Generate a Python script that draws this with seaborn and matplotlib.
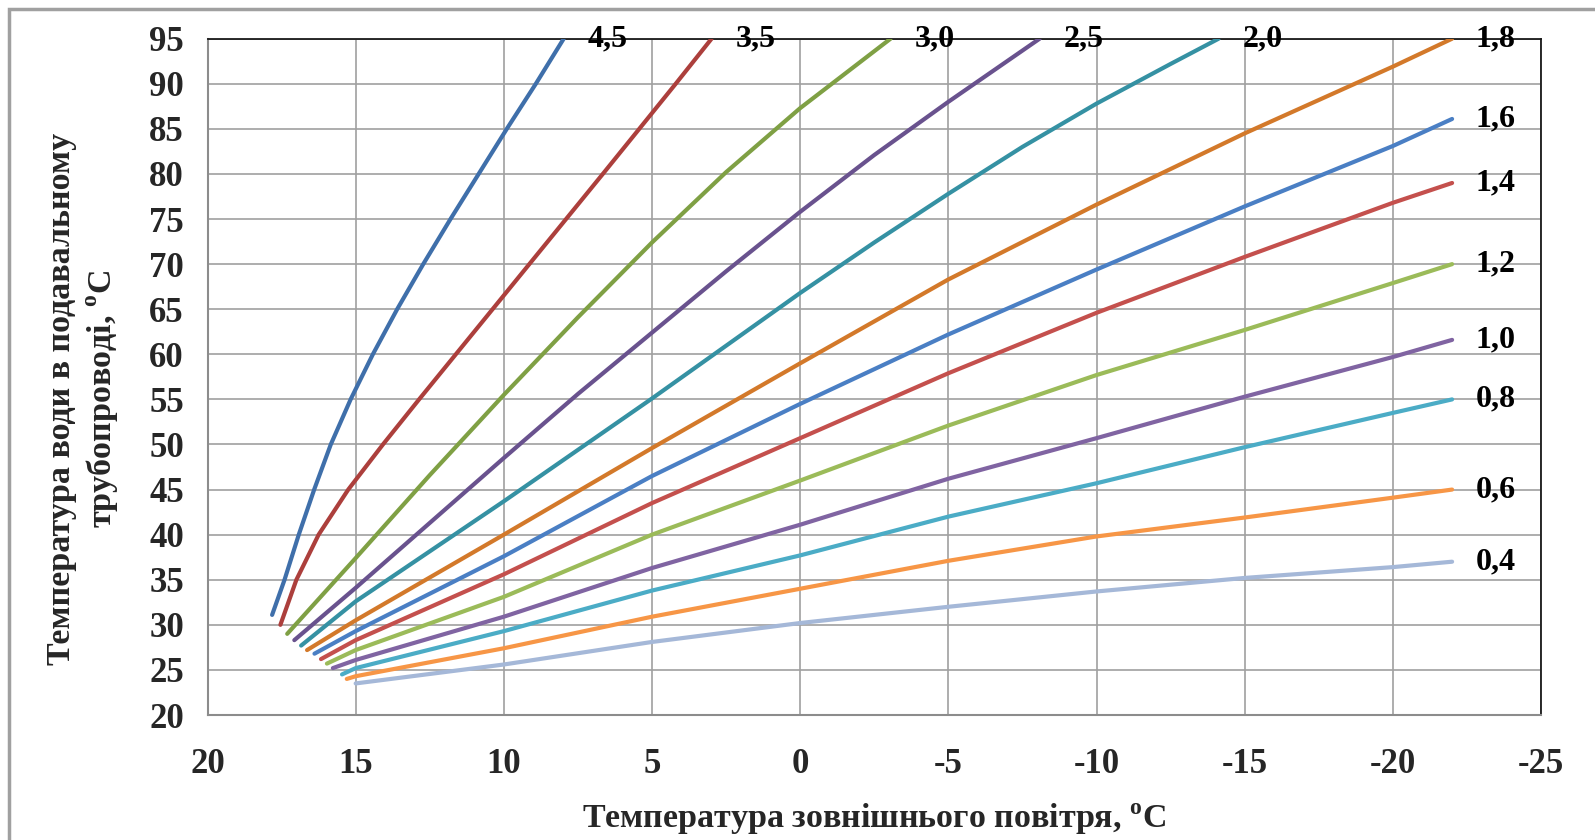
import matplotlib
matplotlib.use("Agg")
import matplotlib.pyplot as plt
import seaborn as sns
import pandas as pd
from matplotlib.patches import Rectangle

# ---------------- data ----------------
labels = ["4,5", "3,5", "3,0", "2,5", "2,0", "1,8", "1,6", "1,4", "1,2", "1,0", "0,8", "0,6", "0,4"]

x_45 = [17.82, 17.4, 16.92, 16.4, 15.84, 15.17, 14.42, 13.6, 12.72, 11.8, 10.85, 9.9, 8.92, 7.98]
y_45 = [31.1, 35, 40, 45, 50, 55, 60, 65, 70, 75, 80, 85, 90, 95]

x_35 = [17.54, 17.0, 16.25, 15.25, 14.08, 12.86, 11.62, 10.38, 9.14, 7.9, 6.66, 5.43, 4.2, 2.99]
y_35 = [30.0, 35, 40, 45, 50, 55, 60, 65, 70, 75, 80, 85, 90, 95]

x_30 = [17.31, 15, 12.5, 10, 7.5, 5, 2.5, 0, -3.05]
y_30 = [29.0, 37.4, 46.6, 55.5, 64.1, 72.4, 80.2, 87.3, 95]

x_25 = [17.07, 15, 10, 7.5, 5, 2.5, 0, -2.5, -5, -8.08]
y_25 = [28.3, 34.1, 48.5, 55.6, 62.4, 69.2, 75.8, 82.1, 88.0, 95]

x_20 = [16.84, 15, 10, 5, 0, -2.5, -5, -7.5, -10, -12.5, -14.12]
y_20 = [27.7, 32.6, 43.7, 55.1, 66.8, 72.4, 77.8, 83.0, 87.8, 92.2, 95]

x_18 = [16.64, 15, 10, 5, 0, -5, -10, -15, -20, -22]
y_18 = [27.2, 30.5, 40.0, 49.6, 59.0, 68.3, 76.6, 84.5, 91.9, 95.0]

x_16 = [16.39, 15, 10, 5, 0, -5, -10, -15, -20, -22]
y_16 = [26.8, 29.3, 37.6, 46.5, 54.5, 62.2, 69.4, 76.4, 83.1, 86.1]

x_14 = [16.17, 15, 10, 5, 0, -5, -10, -15, -20, -22]
y_14 = [26.2, 28.3, 35.6, 43.5, 50.7, 57.9, 64.6, 70.8, 76.8, 79.0]

x_12 = [15.97, 15, 10, 5, 0, -5, -10, -15, -20, -22]
y_12 = [25.7, 27.2, 33.1, 40.0, 46.0, 52.1, 57.7, 62.7, 67.9, 70.0]

x_10 = [15.77, 15, 10, 5, 0, -5, -10, -15, -20, -22]
y_10 = [25.2, 26.1, 30.9, 36.3, 41.1, 46.2, 50.7, 55.3, 59.7, 61.6]

x_08 = [15.46, 15, 10, 5, 0, -5, -10, -15, -20, -22]
y_08 = [24.5, 25.2, 29.3, 33.8, 37.7, 42.0, 45.7, 49.7, 53.5, 55.0]

x_06 = [15.30, 15, 10, 5, 0, -5, -10, -15, -20, -22]
y_06 = [24.0, 24.3, 27.4, 30.9, 34.0, 37.1, 39.8, 41.9, 44.1, 45.0]

x_04 = [15.0, 10, 5, 0, -5, -10, -15, -20, -22]
y_04 = [23.5, 25.6, 28.1, 30.2, 32.0, 33.7, 35.2, 36.4, 37.0]

series_x = [x_45, x_35, x_30, x_25, x_20, x_18, x_16, x_14, x_12, x_10, x_08, x_06, x_04]
series_y = [y_45, y_35, y_30, y_25, y_20, y_18, y_16, y_14, y_12, y_10, y_08, y_06, y_04]

colors = ["#3F6FAA", "#AC3F3C", "#7FA044", "#69528E", "#3591A3", "#D3792A", "#4A7FC4",
          "#C4504D", "#9BBB59", "#8064A2", "#4BACC6", "#F79646", "#A5B8D8"]

x_ticks = [20, 15, 10, 5, 0, -5, -10, -15, -20, -25]
y_ticks = [20, 25, 30, 35, 40, 45, 50, 55, 60, 65, 70, 75, 80, 85, 90, 95]

x_title = "Температура зовнішнього повітря, $^{\\mathbf{o}}$C"
y_title = "Температура води в подавальному\nтрубопроводі, $^{\\mathbf{o}}$C"

# ---------------- build table ----------------
rows = []
for lab, xs, ys in zip(labels, series_x, series_y):
    for i, (xv, yv) in enumerate(zip(xs, ys)):
        rows.append({"curve": lab, "order": i, "t_out": xv, "t_sup": yv})
df = pd.DataFrame(rows)

# ---------------- style ----------------
sns.set_style("white")
plt.rcParams["font.family"] = ["Liberation Serif", "DejaVu Serif"]
plt.rcParams["font.weight"] = "bold"
plt.rcParams["mathtext.fontset"] = "custom"
plt.rcParams["mathtext.rm"] = "Liberation Serif"
plt.rcParams["mathtext.bf"] = "Liberation Serif:bold"
plt.rcParams["axes.unicode_minus"] = False

W, H = 1595, 840
fig = plt.figure(figsize=(W / 100, H / 100), dpi=100)
left, right, top, bottom = 207.5, 1541, 38.7, 715
ax = fig.add_axes([left / W, 1 - bottom / H, (right - left) / W, (bottom - top) / H])

palette = dict(zip(labels, colors))
sns.lineplot(data=df, x="t_out", y="t_sup", hue="curve", palette=palette,
             units="curve", estimator=None, sort=False, legend=False,
             linewidth=3.0, ax=ax, solid_capstyle="round",
             solid_joinstyle="round", zorder=3)

ax.set_xlim(20, -25)
ax.set_ylim(20, 95)
ax.set_xticks(x_ticks)
ax.set_yticks(y_ticks)
ax.set_xticklabels([str(v) for v in x_ticks])
ax.set_yticklabels([str(v) for v in y_ticks])
ax.set_xlabel("")
ax.set_ylabel("")

ax.grid(True, color="#A0A0A0", linewidth=1.2, zorder=0)
ax.set_axisbelow(True)

for s in ["left", "bottom"]:
    ax.spines[s].set_color("#8C8C8C")
    ax.spines[s].set_linewidth(1.5)
for s in ["top", "right"]:
    ax.spines[s].set_color("#1A1A1A")
    ax.spines[s].set_linewidth(1.3)

ax.tick_params(axis="x", direction="out", length=8, width=1, color="#8C8C8C",
               pad=16, labelsize=25)
ax.tick_params(axis="y", length=0, pad=17, labelsize=25)
for t in ax.get_xticklabels() + ax.get_yticklabels():
    t.set_fontweight("bold")

# curve labels
for lab, xs, ys in zip(labels, series_x, series_y):
    ax.text(xs[-1] - 0.8, ys[-1], lab, ha="left", va="center", fontsize=23,
            fontweight="bold", color="black", zorder=5, clip_on=False)

fig.text(874 / W, 1 - 819 / H, x_title, ha="center", va="center", fontsize=24.5,
         fontweight="bold")
fig.text(83 / W, 1 - 399 / H, y_title, ha="center", va="center", rotation=90,
         fontsize=24.5, fontweight="bold", multialignment="center", linespacing=1.25)

# outer chart border
fig.patches.append(Rectangle((9 / W, -0.1), (W + 40) / W, 1 - 9 / H + 0.1,
                             transform=fig.transFigure, fill=False,
                             edgecolor="#A0A0A0", linewidth=2.5, zorder=0))

fig.savefig("out.png", dpi=100)
